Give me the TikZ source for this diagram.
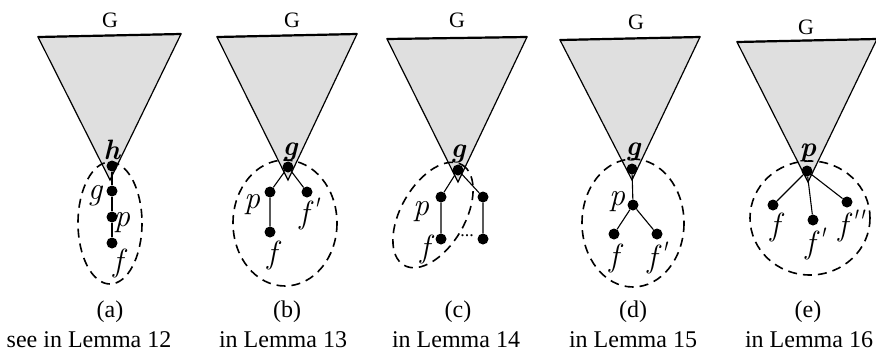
\documentclass[tikz,border=0pt]{standalone}
\usepackage{fontspec}
\setmainfont{Liberation Serif}
\newfontfamily\labfont{Latin Modern Roman}
\begin{document}
\begin{tikzpicture}[x=1pt,y=-1pt,
  tri/.style={draw, line width=1.2pt, fill=gray!25, line join=miter},
  topedge/.style={line width=2.2pt},
  dot/.style={circle, fill=black, inner sep=0pt, minimum size=11pt},
  lab/.style={font=\labfont\fontsize{32}{32}\selectfont\itshape, inner sep=0pt},
  blab/.style={font=\labfont\fontsize{28}{28}\selectfont\bfseries\itshape, inner sep=0pt},
  oval/.style={draw, line width=1.6pt, dash pattern=on 9pt off 6pt},
  captxt/.style={font=\fontsize{24}{26}\selectfont, inner sep=0pt},
  glab/.style={font=\fontsize{22}{22}\selectfont, inner sep=0pt},
  conn/.style={line width=1.1pt}]
\useasboundingbox (0,0) rectangle (876,354);

% ---------- (a)
\draw[tri] (38,37) -- (181,34) -- (110,180) -- cycle;
\draw[topedge] (38,37) -- (181,34);
\node[glab] (Ga) at (110,20) {G};
\node[blab] (hla) at (112,150) {h};
\node[dot] (ha) at (112,166) {};
\node[dot] (ga) at (112,191) {};
\node[dot] (pa) at (112,217) {};
\node[dot] (fa) at (112,243) {};
\draw[conn] (ha) -- (ga) -- (pa) -- (fa);
\node[lab] (gla) at (95,196) {g};
\node[lab] (pla) at (122,223) {p};
\node[lab] (fla) at (118,263) {f};
\draw[oval] (110,223) ellipse [x radius=32, y radius=61];
\node[captxt] (ca) at (110,312) {(a)};
\node[captxt] (la) at (89,340) {see in Lemma 12};

% ---------- (b)
\draw[tri] (217,37) -- (357,34) -- (288,180) -- cycle;
\draw[topedge] (217,37) -- (357,34);
\node[glab] (Gb) at (292,20) {G};
\node[blab] (glb) at (290,152) {g};
\node[dot] (gb) at (288,167) {};
\node[dot] (pb) at (270,192) {};
\node[dot] (f1b) at (307,192) {};
\node[dot] (fb) at (270,232) {};
\draw[conn] (gb) -- (pb) -- (fb);
\draw[conn] (gb) -- (f1b);
\node[lab] (plb) at (252,205) {p};
\node[lab] (f1lb) at (309,214) {f\raisebox{3pt}{\textquotesingle}};
\node[lab] (flb) at (272,255) {f};
\draw[oval] (285,223) ellipse [x radius=52, y radius=63];
\node[captxt] (cb) at (287,312) {(b)};
\node[captxt] (lb) at (283,340) {in Lemma 13};

% ---------- (c)
\draw[tri] (387,39) -- (527,37) -- (458,182) -- cycle;
\draw[topedge] (387,39) -- (527,37);
\node[glab] (Gc) at (457,20) {G};
\node[blab] (glc) at (458,154) {g};
\node[dot] (gc) at (458,170) {};
\node[dot] (pc) at (441,197) {};
\node[dot] (r1c) at (483,197) {};
\node[dot] (fc) at (441,239) {};
\node[dot] (r2c) at (483,239) {};
\draw[conn] (gc) -- (pc) -- (fc);
\draw[conn] (gc) -- (r1c) -- (r2c);
\node[font=\fontsize{18}{18}\selectfont, inner sep=0pt] (dc) at (467,236) {...};
\node[lab] (plc) at (421,212) {p};
\node[lab] (flc) at (425,249) {f};
\draw[oval, rotate around={60:(433,215)}] (433,215) ellipse [x radius=58, y radius=32];
\node[captxt] (cc) at (458,312) {(c)};
\node[captxt] (lc) at (456,340) {in Lemma 14};

% ---------- (d)
\draw[tri] (560,40) -- (700,37) -- (632,180) -- cycle;
\draw[topedge] (560,40) -- (700,37);
\node[glab] (Gd) at (636,22) {G};
\node[blab] (gld) at (633,152) {g};
\node[dot] (gd) at (632,169) {};
\node[dot] (pd) at (633,205) {};
\node[dot] (fd) at (614,234) {};
\node[dot] (f1d) at (657,234) {};
\draw[conn] (gd) -- (pd) -- (fd);
\draw[conn] (pd) -- (f1d);
\node[lab] (pld) at (617,202) {p};
\node[lab] (fld) at (614,258) {f};
\node[lab] (f1ld) at (657,258) {f\raisebox{3pt}{\textquotesingle}};
\draw[oval] (633,223) ellipse [x radius=51, y radius=64];
\node[captxt] (cd) at (633,312) {(d)};
\node[captxt] (ld) at (633,340) {in Lemma 15};

% ---------- (e)
\draw[tri] (737,42) -- (877,39) -- (808,182) -- cycle;
\draw[topedge] (737,42) -- (877,39);
\node[glab] (Ge) at (806,27) {G};
\node[blab] (ple) at (808,153) {p};
\node[dot] (pe) at (807,171) {};
\node[dot] (fe) at (773,205) {};
\node[dot] (f1e) at (813,220) {};
\node[dot] (f2e) at (847,202) {};
\draw[conn] (pe) -- (fe);
\draw[conn] (pe) -- (f1e);
\draw[conn] (pe) -- (f2e);
\node[lab] (fle) at (775,227) {f};
\node[lab] (f1le) at (815,244) {f\raisebox{3pt}{\textquotesingle}};
\node[lab] (f2le) at (851,226) {f\raisebox{3pt}{\textquotesingle\kern-3pt\textquotesingle}};
\draw[oval] (810,218) ellipse [x radius=60, y radius=57];
\node[captxt] (ce) at (808,312) {(e)};
\node[captxt] (le) at (809,340) {in Lemma 16};
\end{tikzpicture}
\end{document}
